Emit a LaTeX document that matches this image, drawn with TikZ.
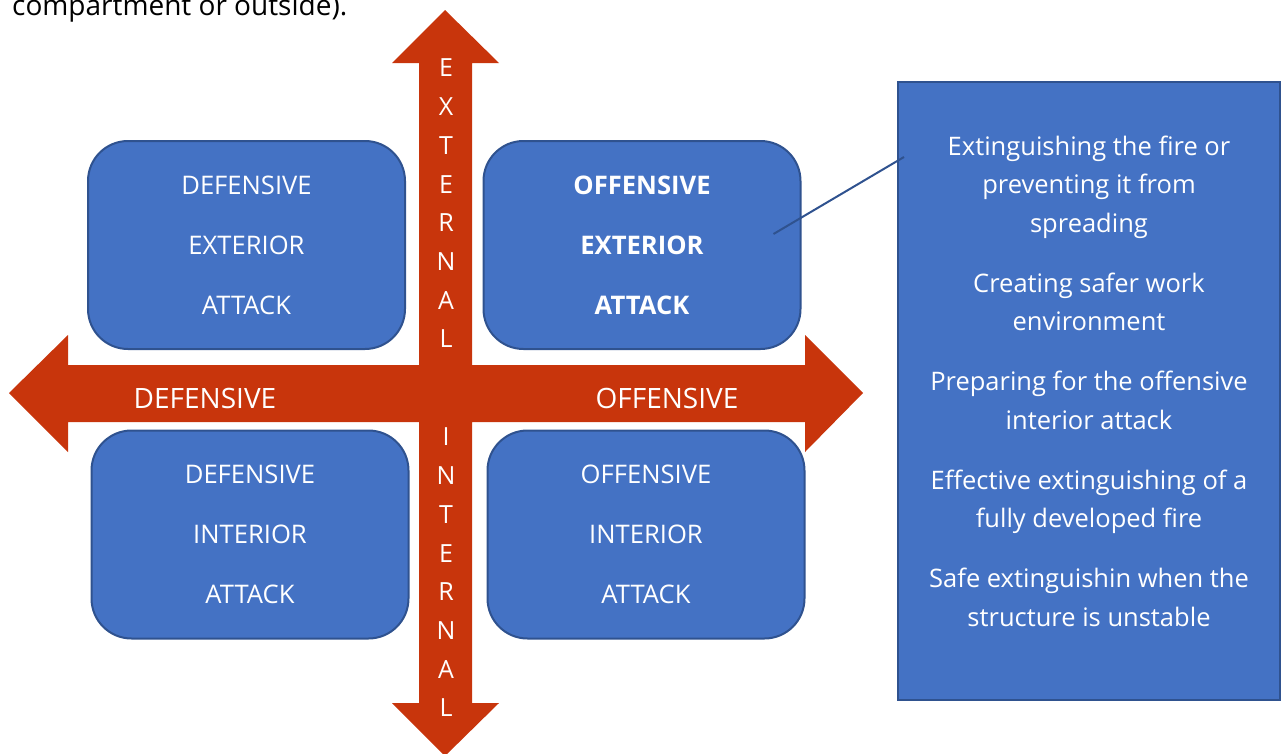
\documentclass[tikz,border=0pt]{standalone}
\usepackage{fontspec}
\setmainfont{Open Sans}
\usepackage{tikz}
\usetikzlibrary{positioning, calc}
\definecolor{firered}{HTML}{C8350C}
\definecolor{tileblue}{HTML}{4472C4}
\definecolor{tileedge}{HTML}{2F528F}

\tikzset{
  tile/.style={fill=tileblue, draw=tileedge, line width=2pt, rounded corners=40pt,
    minimum width=317pt, minimum height=208pt, text=white, align=center,
    font=\fontsize{25.6}{60}\selectfont},
  axislbl/.style={text=white, font=\fontsize{28}{30}\selectfont, inner sep=0pt},
  letter/.style={text=white, font=\fontsize{25}{30}\selectfont, inner sep=0pt},
}

\begin{document}
\begin{tikzpicture}[x=1pt, y=-1pt]
  \useasboundingbox (0,0) rectangle (1286,753);
  \clip (0,0) rectangle (1286,753);
  % leftover text above the figure
  \node[anchor=base west, inner sep=0pt, font=\fontsize{28}{30}\selectfont] (prev) at (12,15) {compartment or outside).};
  % the two axes
  \fill[firered] (445,10) -- (499,63) -- (472,63) -- (472,365) -- (805,365) -- (805,335) -- (863,393)
    -- (805,452) -- (805,422) -- (472,422) -- (472,703) -- (499,703) -- (445,756) -- (392,703)
    -- (419,703) -- (419,422) -- (68,422) -- (68,452) -- (9,393) -- (68,335) -- (68,365)
    -- (419,365) -- (419,63) -- (392,63) -- cycle;
  \node[axislbl] (def) at (205,398) {DEFENSIVE};
  \node[axislbl] (off) at (667,398) {OFFENSIVE};
  \foreach \ch [count=\i] in {E,X,T,E,R,N,A,L}
    \node[letter] (ext\i) at (446,{68+38.7*(\i-1)}) {\ch};
  \foreach \ch [count=\i] in {I,N,T,E,R,N,A,L}
    \node[letter] (int\i) at (446,{437+38.7*(\i-1)}) {\ch};
  % four quadrants
  \node[tile] (dext) at (246.5,245) {DEFENSIVE\\EXTERIOR\\ATTACK};
  \node[tile, font=\fontsize{25.6}{60}\selectfont\bfseries] (oext) at (642,245) {OFFENSIVE\\EXTERIOR\\ATTACK};
  \node[tile] (dint) at (250,534.5) {DEFENSIVE\\INTERIOR\\ATTACK};
  \node[tile] (oint) at (646,534.5) {OFFENSIVE\\INTERIOR\\ATTACK};
  % aims of the offensive exterior attack
  \node[fill=tileblue, draw=tileedge, line width=2pt, minimum width=382pt, minimum height=618pt] (aims) at (1089,391) {};
  \node[text=white, align=center, font=\fontsize{25.5}{38.5}\selectfont] (aimtxt) at (1089,381)
    {Extinguishing the fire or\\preventing it from\\spreading\\[21.5pt]
     Creating safer work\\environment\\[21.5pt]
     Preparing for the offensive\\interior attack\\[21.5pt]
     Effective extinguishing of a\\fully developed fire\\[21.5pt]
     Safe extinguishin when the\\structure is unstable};
  \coordinate (callA) at ($(oext.east)+(-28,-11)$);
  \coordinate (callB) at ($(aims.west)+(7,-234)$);
  \draw[tileedge, line width=2pt] (callA) -- (callB);
\end{tikzpicture}
\end{document}
